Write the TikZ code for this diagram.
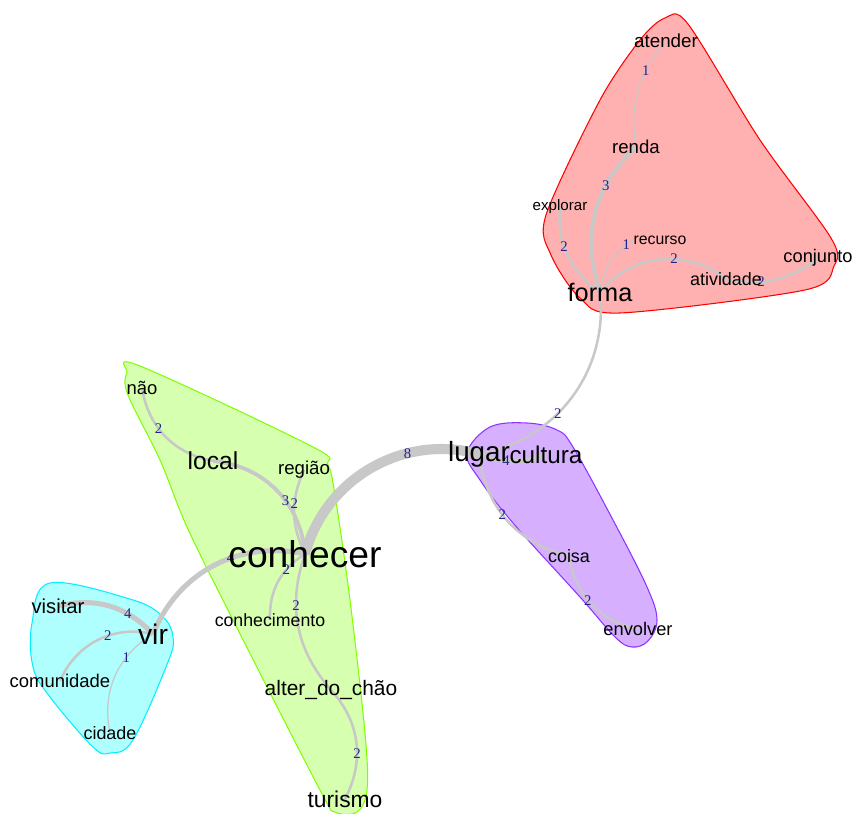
\documentclass[tikz,border=0pt]{standalone}
\usepackage{fontspec}
\setmainfont{Liberation Sans}
\newfontfamily\numfont{Liberation Serif}
\definecolor{simedge}{HTML}{C8C8C8}
\definecolor{simnum}{HTML}{22228C}
\definecolor{redfill}{HTML}{FFB0B0}
\definecolor{redline}{HTML}{FF0000}
\definecolor{greenfill}{HTML}{D6FFB0}
\definecolor{greenline}{HTML}{80FF00}
\definecolor{cyanfill}{HTML}{B0FFFF}
\definecolor{cyanline}{HTML}{00F0FF}
\definecolor{purplefill}{HTML}{D6B0FF}
\definecolor{purpleline}{HTML}{8C33FF}
\usepackage{tikz}
\pgfdeclarelayer{hulls}
\pgfdeclarelayer{edges}
\pgfsetlayers{hulls,edges,main}

\begin{document}
\begin{tikzpicture}[x=0.02cm, y=0.02cm,
  word/.style={inner sep=0pt, font=\fontsize{#1}{#1}\selectfont},
  word/.default=10.5,
  num/.style={inner sep=0pt, text=simnum, font=\numfont\fontsize{8.4}{8.4}\selectfont},
  hull/.style={line width=0.6pt}]
  \useasboundingbox (0,0) rectangle (853,-814);
  % Words: name/x/y/size/text
  \foreach \n/\x/\y/\s/\t in {
    atender/666/41/10.7/atender, renda/636/147/10.6/renda,
    explorar/560/207/8.6/explorar, recurso/660/240/9/recurso,
    conjunto/818/258/10.4/conjunto, atividade/726/279/10.2/atividade,
    forma/600/292/14.4/forma, nao/142/388/10.5/não,
    local/213/461/14/local, regiao/304/470/10.6/região,
    conhecer/305/554/21.2/conhecer, lugar/479/454/15.8/lugar,
    cultura/546/455/13.8/cultura, coisa/569/556/10.2/coisa,
    envolver/638/629/10.4/envolver, visitar/58/606/11.5/visitar,
    vir/153/634/16.1/vir, comunidade/60/681/10.5/comunidade,
    cidade/110/733/10.2/cidade, conhecimento/270/620/10.1/conhecimento,
    alter/331/690/11.9/alter\_do\_chão, turismo/345/799/13/turismo
  }{
    \node[word=\s] (\n) at (\x,-\y) {\t};
  }
  % Edges: from/to/weight/bend/label pos
  \begin{pgfonlayer}{edges}
    \foreach \a/\b/\w/\bl/\p in {
      atender/renda/1/-25/0.3, renda/forma/3/-33/0.3,
      explorar/forma/2/-30/0.4, forma/atividade/2/45/0.6,
      atividade/conjunto/2/-25/0.35, forma/lugar/2/43/0.6,
      lugar/cultura/4/-20/0.4, lugar/coisa/2/-35/0.45,
      coisa/envolver/2/-35/0.45, lugar/conhecer/8/-45/0.32,
      conhecer/vir/4/-40/0.4, local/conhecer/3/40/0.6,
      regiao/conhecer/2/-25/0.4, nao/local/2/-35/0.4,
      conhecer/conhecimento/2/-30/0.3, conhecer/alter/2/-30/0.35,
      alter/turismo/2/35/0.6, vir/visitar/4/-30/0.3,
      vir/comunidade/2/-40/0.4, vir/cidade/1/-35/0.3
    }{
      \draw[simedge, line width=\w*0.72pt] (\a.center) to[bend left=\bl]
        node[num, pos=\p] {\w} (\b.center);
    }
    % Recurso edge ends at the word's left side
    \draw[simedge, line width=0.72pt] (forma.center) to[bend left=25]
      node[num, pos=0.88] {1} (recurso.west);
  \end{pgfonlayer}
  % Clusters
  \begin{pgfonlayer}{hulls}
    \filldraw[hull, fill=redfill, draw=redline] plot[smooth cycle, tension=0.5] coordinates {
      (665,-18) (688,-24) (760,-140) (831,-238) (834,-266) (805,-290)
      (620,-313) (580,-298) (551,-255) (546,-215) (600,-100) (640,-40)};
    \filldraw[hull, fill=greenfill, draw=greenline] plot[smooth cycle, tension=0.55] coordinates {
      (140,-366) (313,-447) (328,-465) (335,-495) (350,-600) (365,-733)
      (367,-790) (357,-812) (335,-812) (320,-790) (233,-620) (187,-527)
      (160,-460) (128,-395) (127,-373)};
    \filldraw[hull, fill=cyanfill, draw=cyanline] plot[smooth cycle, tension=0.6] coordinates {
      (50,-583) (133,-600) (163,-617) (173,-637) (168,-662) (133,-740)
      (110,-753) (93,-747) (50,-697) (33,-667) (32,-623)};
    \filldraw[hull, fill=purplefill, draw=purpleline] plot[smooth cycle, tension=0.6] coordinates {
      (490,-427) (527,-423) (557,-430) (573,-447) (613,-520) (647,-587)
      (657,-620) (648,-641) (632,-647) (615,-637) (580,-597) (513,-523)
      (480,-480) (467,-453)};
  \end{pgfonlayer}
\end{tikzpicture}
\end{document}
